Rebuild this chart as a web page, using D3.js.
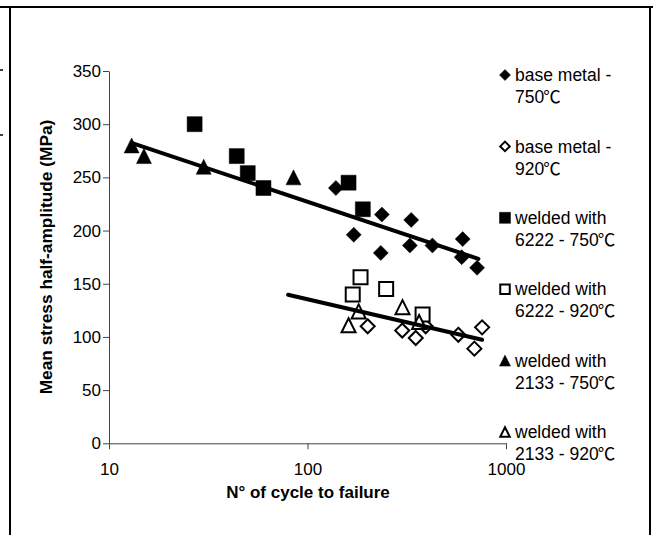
<!DOCTYPE html>
<html><head><meta charset="utf-8">
<script src="https://cdn.jsdelivr.net/npm/d3@7"></script>
<style>
html,body{margin:0;padding:0;background:#fff;}
svg{display:block;}
text{font-family:"Liberation Sans",Arial,"Noto Sans CJK SC",sans-serif;fill:#000;}
</style></head>
<body>
<svg id="chart" width="653" height="535"></svg>
<script>
// ---- data (N cycles, stress MPa) ----
const baseMetal750 = [[139,240],[237,215],[333,210],[171,196],[234,179],[328,186],[426,186],[605,192],[598,175],[715,165]];
const baseMetal920 = [[201,110],[300,106],[351,99],[394,110],[575,102],[693,89],[758,109]];
const welded6222_750 = [[27,300],[44,270],[50,254],[60,240],[161,245],[190,220]];
const welded6222_920 = [[169,140],[185,156],[249,145],[380,121]];
const welded2133_750 = [[13,280],[15,270],[30,260],[85,250]];
const welded2133_920 = [[161,111],[181,124],[301,128],[365,114]];
const trend750 = [[13.2,282],[726,173.4]];
const trend920 = [[79.8,139.6],[758,97.3]];
const seriesNames = [["base metal -","750℃"],["base metal -","920℃"],["welded with","6222 - 750℃"],["welded with","6222 - 920℃"],["welded with","2133 - 750℃"],["welded with","2133 - 920℃"]];
const xTicks = [10,100,1000];
const yTicks = [0,50,100,150,200,250,300,350];
const xTitle = "N° of cycle to failure";
const yTitle = "Mean stress half-amplitude (MPa)";

const series = [
  {data: baseMetal750, shape:"diamond", filled:true},
  {data: baseMetal920, shape:"diamond", filled:false},
  {data: welded6222_750, shape:"square", filled:true},
  {data: welded6222_920, shape:"square", filled:false},
  {data: welded2133_750, shape:"triangle", filled:true},
  {data: welded2133_920, shape:"triangle", filled:false}
];

const svg = d3.select("#chart");

// frame
svg.append("line").attr("x1",0).attr("x2",653).attr("y1",7).attr("y2",7).attr("stroke","#000").attr("stroke-width",2);
svg.append("line").attr("x1",10).attr("x2",10).attr("y1",6).attr("y2",535).attr("stroke","#000").attr("stroke-width",2);
svg.append("line").attr("x1",650).attr("x2",650).attr("y1",6).attr("y2",535).attr("stroke","#000").attr("stroke-width",2);
[70,135].forEach(y=>svg.append("line").attr("x1",0).attr("x2",3).attr("y1",y).attr("y2",y).attr("stroke","#000").attr("stroke-width",1.5));

const x = d3.scaleLog().domain([10,1000]).range([109,506]);
const y = d3.scaleLinear().domain([0,350]).range([443.3,71]);

// axes
const gx = svg.append("g").attr("transform","translate(0,"+y(0)+")")
  .call(d3.axisBottom(x).tickValues(xTicks).tickFormat(d3.format("d")).tickSize(6).tickSizeOuter(0).tickPadding(14));
const gy = svg.append("g").attr("transform","translate("+x(10)+",0)")
  .call(d3.axisLeft(y).tickValues(yTicks).tickSize(6).tickSizeOuter(0).tickPadding(2));
[gx,gy].forEach(g=>{
  g.select(".domain").attr("stroke","#444").attr("stroke-width",1);
  g.selectAll(".tick line").attr("stroke","#444").attr("stroke-width",1);
  g.selectAll(".tick text").attr("font-size","17px").attr("font-family",'"Liberation Sans",Arial,sans-serif').attr("fill","#000");
});

svg.append("text").attr("x",308).attr("y",498).attr("text-anchor","middle")
  .attr("font-size","17px").attr("font-weight","bold").text(xTitle);
svg.append("text").attr("transform","translate(46,257) rotate(-90)").attr("text-anchor","middle")
  .attr("dy","0.35em").attr("font-size","17.3px").attr("font-weight","bold").text(yTitle);

function markerPath(shape, s){
  const h = s/2;
  if(shape==="square") return `M${-h},${-h}H${h}V${h}H${-h}Z`;
  if(shape==="diamond") return `M0,${-h}L${h},0L0,${h}L${-h},0Z`;
  return `M0,${-h}L${h},${h}L${-h},${h}Z`;
}

const pts = svg.append("g");
series.forEach(s=>{
  const size = s.filled ? 15 : 14;
  pts.selectAll(null).data(s.data).enter().append("path")
    .attr("transform",d=>`translate(${x(d[0])},${y(d[1])})`)
    .attr("d",markerPath(s.shape,size))
    .attr("fill",s.filled?"#000":"#fff")
    .attr("stroke","#000").attr("stroke-width",s.filled?0.5:2)
    .attr("stroke-linejoin","miter");
});

// trend lines
const line = d3.line().x(d=>x(d[0])).y(d=>y(d[1]));
[trend750,trend920].forEach(t=>{
  svg.append("path").attr("d",line(t)).attr("fill","none").attr("stroke","#000").attr("stroke-width",4).attr("stroke-linecap","round");
});

// legend
function addLabel(g, txt, xx, yy){
  const t = g.append("text").attr("x",xx).attr("y",yy).attr("dy","0.35em").attr("font-size","17.5px");
  const parts = txt.split("℃");
  t.append("tspan").text(parts[0]);
  if(parts.length>1){
    t.append("tspan").attr("font-family",'"Noto Sans CJK SC",sans-serif').attr("dx","-1").text("℃");
  }
}
const lg = svg.append("g");
seriesNames.forEach((nm,i)=>{
  const yy = 75 + i*71.4;
  const s = series[i];
  lg.append("path").attr("transform",`translate(505,${yy})`)
    .attr("d",markerPath(s.shape, s.filled?11:9.5))
    .attr("fill",s.filled?"#000":"#fff").attr("stroke","#000").attr("stroke-width",s.filled?0.5:2);
  addLabel(lg, nm[0], 515, yy);
  addLabel(lg, nm[1], 515, yy+22);
});
</script>
</body></html>
